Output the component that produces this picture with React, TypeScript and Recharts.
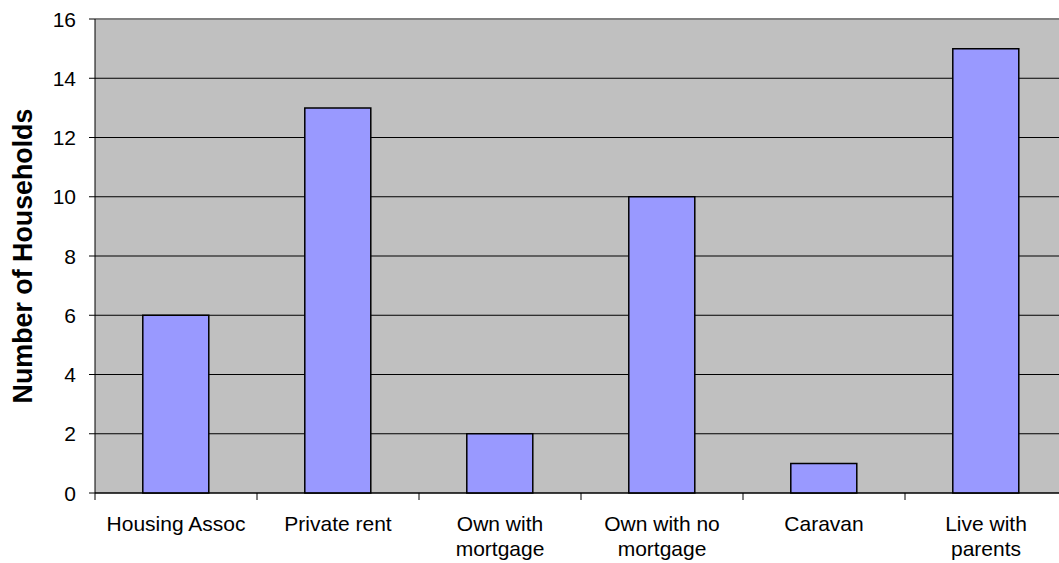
import React from "react";
import { BarChart, Bar, XAxis, YAxis, CartesianGrid, ReferenceLine } from "recharts";

const categories = ["Housing Assoc", "Private rent", "Own with mortgage", "Own with no mortgage", "Caravan", "Live with parents"];
const tickLabels = [["Housing Assoc"], ["Private rent"], ["Own with", "mortgage"], ["Own with no", "mortgage"], ["Caravan"], ["Live with", "parents"]];
const households = [6, 13, 2, 10, 1, 15];
const yTicks = [0, 2, 4, 6, 8, 10, 12, 14, 16];

const data = categories.map((c, i) => ({ name: c, value: households[i] }));

const CHART_W = 1075;
const CHART_H = 563;
const PLOT_LEFT = 95;
const PLOT_RIGHT = 1067;
const BAND = (PLOT_RIGHT - PLOT_LEFT) / categories.length;
const FONT = "'Liberation Sans', Arial, sans-serif";

const XTick = (props: any) => {
  const { x, y, payload, index } = props;
  const idx = categories.indexOf(payload.value);
  const lines = tickLabels[idx >= 0 ? idx : index] || [String(payload.value)];
  const bx = x - BAND / 2;
  return (
    <g>
      <line x1={bx} y1={y} x2={bx} y2={y + 7} stroke="#000" strokeWidth={1} />
      <text x={x} y={y} textAnchor="middle" fontFamily={FONT} fontSize={21} fill="#000">
        {lines.map((l: string, i: number) => (
          <tspan key={i} x={x} dy={i === 0 ? 38 : 25}>{l}</tspan>
        ))}
      </text>
    </g>
  );
};

const YTick = (props: any) => {
  const { x, y, payload } = props;
  return (
    <g>
      <line x1={x - 6} y1={y} x2={x} y2={y} stroke="#000" strokeWidth={1} />
      <text x={x - 19} y={y + 7.5} textAnchor="end" fontFamily={FONT} fontSize={21} fill="#000">
        {payload.value}
      </text>
    </g>
  );
};

export default function App() {
  return (
    <div style={{ position: "absolute", left: 0, top: 0, width: 1059, height: 563, overflow: "hidden", background: "#fff" }}>
      <BarChart
        width={CHART_W}
        height={CHART_H}
        data={data}
        margin={{ top: 19, right: CHART_W - PLOT_RIGHT, left: 0, bottom: 0 }}
        barCategoryGap="29.5%"
      >
        <CartesianGrid vertical={false} stroke="#000" strokeWidth={1} fill="#C0C0C0" fillOpacity={1} />
        <XAxis
          dataKey="name"
          height={70}
          axisLine={{ stroke: "#000" }}
          tickLine={false}
          tickSize={0}
          tickMargin={0}
          interval={0}
          tick={<XTick />}
        />
        <YAxis
          width={PLOT_LEFT}
          domain={[0, 16]}
          ticks={yTicks}
          interval={0}
          axisLine={{ stroke: "#000" }}
          tickLine={false}
          tickSize={0}
          tickMargin={0}
          tick={<YTick />}
          label={{
            value: "Number of Households",
            angle: -90,
            position: "insideLeft",
            offset: 22,
            style: { fontFamily: FONT, fontSize: 26.8, fontWeight: "bold", fill: "#000", textAnchor: "middle" },
          }}
        />
        <ReferenceLine y={16} stroke="#808080" strokeWidth={2} />
        <Bar dataKey="value" fill="#9999FF" stroke="#000" strokeWidth={1.5} isAnimationActive={false} />
      </BarChart>
    </div>
  );
}
